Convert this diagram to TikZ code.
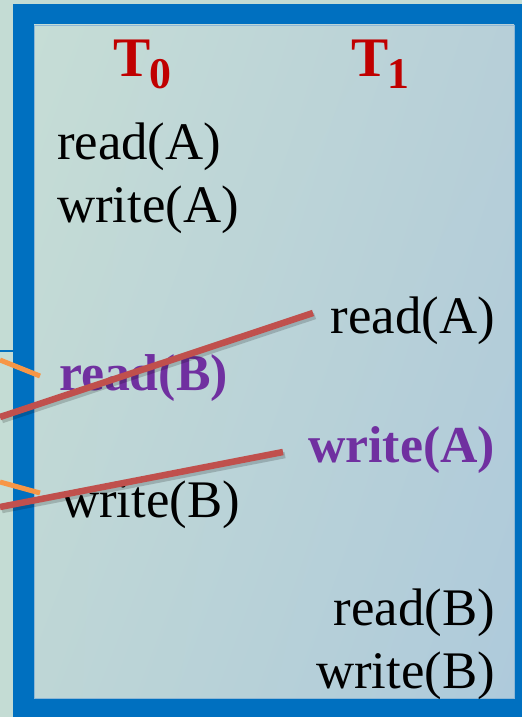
\documentclass[tikz,border=0pt]{standalone}
\usepackage{fontspec}
\setmainfont{Liberation Serif}
\usetikzlibrary{shadings}
\definecolor{framebl}{HTML}{0070C0}
\definecolor{bgout}{HTML}{C4DCD4}
\definecolor{tred}{HTML}{C00000}
\definecolor{opurple}{HTML}{7030A0}
\definecolor{lred}{HTML}{C0504D}
\definecolor{lorange}{HTML}{F79646}
\definecolor{innerline}{HTML}{8DB7D6}
\definecolor{gUL}{RGB}{198,221,214}
\definecolor{gUR}{RGB}{183,207,216}
\definecolor{gLL}{RGB}{190,214,214}
\definecolor{gLR}{RGB}{174,202,219}
\begin{document}
\begin{tikzpicture}[x=1bp,y=-1bp,
  op/.style={inner sep=0pt,outer sep=0pt,font=\fontsize{53}{60}\selectfont},
  opb/.style={op,font=\fontsize{52}{60}\selectfont\bfseries,text=opurple},
  thead/.style={inner sep=0pt,outer sep=0pt,text=tred,font=\fontsize{56}{60}\selectfont\bfseries},
  tsub/.style={inner sep=0pt,outer sep=0pt,text=tred,font=\fontsize{44}{50}\selectfont\bfseries},
  redline/.style={draw=lred,line width=6.5bp},
  redshadow/.style={draw=black,opacity=0.18,line width=6.5bp},
  orangeline/.style={draw=lorange,line width=5bp}]
\useasboundingbox (0,0) rectangle (522,717);
\fill[bgout] (0,0) rectangle (522,717);
% left neighbour box edge
\draw[framebl,line width=2bp] (0,351) -- (13,351);
% frame
\fill[framebl] (13,4) rectangle (540,740);
\shade[upper left=gUL, upper right=gUR, lower left=gLL, lower right=gLR]
  (34,25) rectangle (514,698);
\draw[innerline,line width=0.8bp] (34,25) rectangle (514,698);
% headers
\node[thead,anchor=base west] (t0) at (113,77) {T};
\node[tsub,anchor=base west] (t0s) at (149,89) {0};
\node[thead,anchor=base west] (t1) at (351,77) {T};
\node[tsub,anchor=base west] (t1s) at (387,89) {1};
% T0 column
\node[op,anchor=base west] (a1) at (57,159) {read(A)};
\node[op,anchor=base west] (a2) at (57,222) {write(A)};
\node[opb,anchor=base west] (b1) at (59,390) {read(B)};
\node[op,anchor=base west] (b2) at (61,517) {write(B)};
% T1 column
\node[op,anchor=base east] (c1) at (495,333) {read(A)};
\node[opb,anchor=base east] (c2) at (495,462) {write(A)};
\node[op,anchor=base east] (d1) at (495,625) {read(B)};
\node[op,anchor=base east] (d2) at (495,688) {write(B)};
% connector ends
\coordinate (o1a) at (0,360);
\coordinate (o1b) at (40,376);
\coordinate (o2a) at (0,482);
\coordinate (o2b) at (40,493);
\coordinate (r1a) at (0,417);
\coordinate (r1b) at (313,313);
\coordinate (r2a) at (0,507);
\coordinate (r2b) at (283,452);
% orange lines
\draw[orangeline] (o1a) -- (o1b);
\draw[orangeline] (o2a) -- (o2b);
% red lines with shadow
\draw[redshadow] ([shift={(2,3)}]r1a) -- ([shift={(2,3)}]r1b);
\draw[redshadow] ([shift={(2,3)}]r2a) -- ([shift={(2,3)}]r2b);
\draw[redline] (r1a) -- (r1b);
\draw[redline] (r2a) -- (r2b);
\end{tikzpicture}
\end{document}
